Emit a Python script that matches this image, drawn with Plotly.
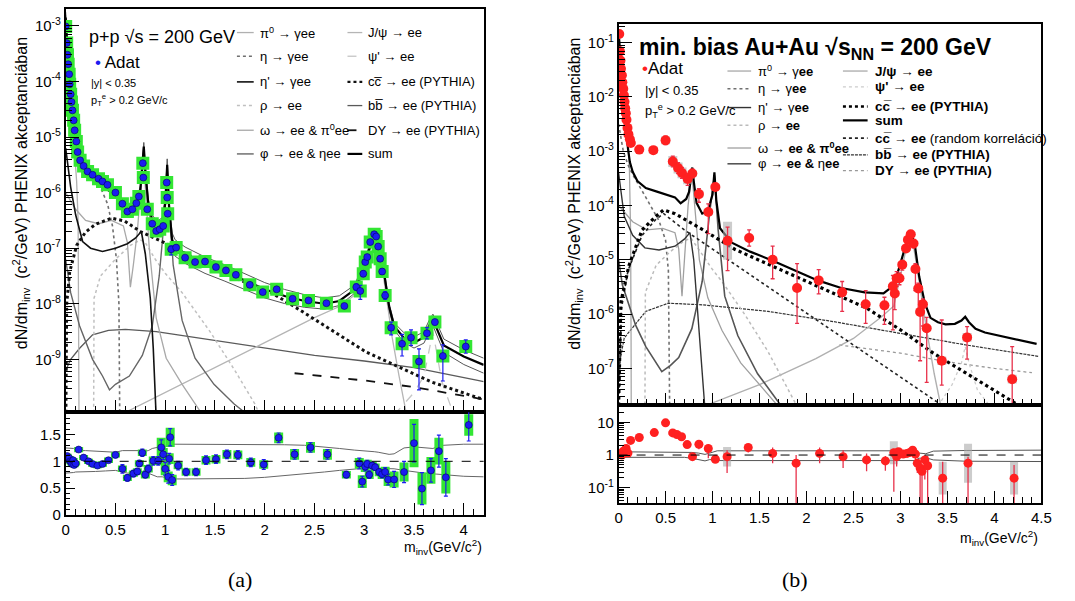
import numpy as np
import plotly.graph_objects as go

# ===================== PANEL (a): p+p =====================
a_x = [0.0, 0.01, 0.018, 0.025, 0.035, 0.04, 0.05, 0.058, 0.068, 0.08,
       0.09, 0.107, 0.12, 0.145, 0.18, 0.22, 0.27, 0.33, 0.37, 0.42,
       0.50, 0.57, 0.62, 0.67, 0.71, 0.735, 0.775, 0.78, 0.82, 0.87,
       0.91, 0.945, 0.98, 1.015, 1.02, 1.025, 1.06, 1.11, 1.20, 1.30,
       1.40, 1.51, 1.61, 1.71, 1.85, 1.98, 2.12, 2.28, 2.44, 2.62,
       2.80, 2.92, 2.96, 2.99, 3.01, 3.03, 3.06, 3.10, 3.12, 3.14,
       3.16, 3.18, 3.21, 3.27, 3.38, 3.47, 3.55, 3.63, 3.71, 3.79,
       4.02]
a_logy = [-3.01, -3.31, -3.52, -3.69, -3.87, -4.05, -4.23, -4.37, -4.52, -4.70,
          -4.88, -5.08, -5.27, -5.42, -5.52, -5.62, -5.68, -5.75, -5.80, -5.86,
          -6.00, -6.20, -6.34, -6.30, -6.19, -6.07, -5.47, -5.73, -6.30, -6.56,
          -6.69, -6.66, -6.60, -5.82, -6.09, -6.38, -7.02, -6.99, -7.17, -7.25,
          -7.24, -7.34, -7.40, -7.48, -7.66, -7.79, -7.74, -7.91, -7.94, -7.99,
          -8.04, -7.70, -7.77, -7.46, -7.25, -7.16, -6.89, -6.75, -6.79, -6.97,
          -7.19, -7.42, -7.85, -8.43, -8.72, -8.61, -9.04, -8.53, -8.33, -8.94,
          -8.77]
a_stat_up = [0.02] * 20 + [0.03] * 16 + [0.06, 0.03, 0.03, 0.03] + [0.03] * 10 + \
            [0.04, 0.06, 0.10, 0.05, 0.04, 0.04, 0.04, 0.03, 0.03, 0.04] + \
            [0.05, 0.05, 0.07, 0.10, 0.17, 0.14, 0.23, 0.10, 0.05, 0.20] + [0.12]
a_stat_dn = [0.02] * 20 + [0.03] * 16 + [0.10, 0.03, 0.03, 0.03] + [0.03] * 10 + \
            [0.04, 0.06, 0.15, 0.05, 0.04, 0.04, 0.04, 0.03, 0.03, 0.04] + \
            [0.05, 0.05, 0.07, 0.13, 0.22, 0.14, 0.51, 0.10, 0.05, 0.45] + [0.12]

ar_x = [0.005, 0.015, 0.025, 0.035, 0.045, 0.055, 0.065, 0.075, 0.085, 0.1,
        0.13, 0.18, 0.23, 0.27, 0.32, 0.37, 0.43, 0.5, 0.57, 0.62,
        0.68, 0.72, 0.74, 0.77, 0.80, 0.83, 0.88, 0.93, 0.96, 0.98,
        1.0, 1.03, 1.04, 1.05, 1.07, 1.13, 1.21, 1.31, 1.41, 1.51,
        1.62, 1.73, 1.86, 1.99, 2.14, 2.30, 2.46, 2.63, 2.82, 2.95,
        2.98, 3.01, 3.03, 3.05, 3.08, 3.11, 3.15, 3.18, 3.21, 3.24,
        3.30, 3.40, 3.50, 3.58, 3.67, 3.75, 3.82, 4.05]
ar_y = [1.08, 1.1, 1.04, 1.06, 1.0, 0.98, 0.95, 1.02, 0.93, 0.96,
        1.22, 1.07, 1.0, 0.95, 0.92, 0.95, 1.02, 1.12, 0.86, 0.69,
        0.77, 0.81, 0.96, 1.16, 0.75, 0.86, 1.01, 1.01, 1.26, 1.13,
        0.86, 0.71, 1.05, 1.45, 0.65, 0.92, 0.80, 0.80, 1.02, 1.04,
        1.13, 1.12, 0.98, 0.94, 1.44, 1.13, 1.26, 1.13, 0.75, 0.96,
        0.62, 0.90, 0.95, 0.75, 0.92, 0.89, 0.80, 0.76, 0.80, 0.66,
        0.66, 0.80, 1.34, 0.49, 0.83, 1.19, 0.70, 1.68]
ar_stat = [0.03] * 10 + \
          [0.03, 0.03, 0.03, 0.03, 0.03, 0.03, 0.04, 0.05, 0.08, 0.06] + \
          [0.06, 0.06, 0.06, 0.07, 0.06, 0.07, 0.08, 0.08, 0.14, 0.10] + \
          [0.12, 0.12, 0.10, 0.16, 0.10, 0.08, 0.07, 0.07, 0.08, 0.08] + \
          [0.08, 0.08, 0.08, 0.09, 0.09, 0.09, 0.09, 0.09, 0.06, 0.10] + \
          [0.10, 0.08, 0.07, 0.07, 0.06, 0.06, 0.06, 0.07, 0.08, 0.10] + \
          [0.15, 0.20, 0.35, 0.30, 0.22, 0.30, 0.35, 0.30]
ar_sys = [0.04] * 10 + [0.05] * 8 + [0.06, 0.06] + \
         [0.06, 0.06, 0.06, 0.06, 0.07, 0.07, 0.08, 0.08, 0.18, 0.12] + \
         [0.12, 0.10, 0.10, 0.18, 0.10, 0.07, 0.07, 0.07, 0.08, 0.08] + \
         [0.08, 0.08, 0.08, 0.08, 0.10, 0.10, 0.10, 0.10, 0.07, 0.10] + \
         [0.12, 0.10, 0.08, 0.08, 0.07, 0.07, 0.08, 0.09, 0.10, 0.12] + \
         [0.15, 0.18, 0.45, 0.30, 0.25, 0.25, 0.30, 0.20]

sum_a_x = [0.0, 0.01, 0.02, 0.04, 0.06, 0.08, 0.10, 0.12, 0.15, 0.2,
           0.3, 0.4, 0.5, 0.57, 0.62, 0.67, 0.72, 0.75, 0.77, 0.785,
           0.80, 0.83, 0.87, 0.92, 0.97, 1.0, 1.02, 1.04, 1.07, 1.1,
           1.2, 1.4, 1.6, 1.8, 2.0, 2.2, 2.4, 2.6, 2.75, 2.9,
           3.0, 3.06, 3.1, 3.14, 3.2, 3.25, 3.3, 3.4, 3.5, 3.6,
           3.65, 3.69, 3.73, 3.8, 4.0, 4.2]
sum_a_logy = [-2.85, -3.25, -3.5, -4.0, -4.4, -4.7, -5.0, -5.25, -5.4, -5.55,
              -5.7, -5.85, -6.0, -6.2, -6.33, -6.33, -6.2, -5.95, -5.55, -5.17,
              -5.6, -6.2, -6.5, -6.62, -6.55, -6.2, -5.5, -6.3, -6.85, -6.97,
              -7.1, -7.28, -7.42, -7.58, -7.74, -7.86, -7.95, -8.0, -7.95, -7.75,
              -7.35, -6.95, -6.76, -6.85, -7.45, -8.05, -8.4, -8.62, -8.7, -8.6,
              -8.4, -8.28, -8.45, -8.75, -8.95, -9.1]
band_a_hi = [1.25, 1.25, 1.25, 1.25, 1.25, 1.24, 1.22, 1.21, 1.2, 1.2,
             1.19, 1.18, 1.17, 1.2, 1.2, 1.21, 1.2, 1.2, 1.19, 1.18,
             1.19, 1.2, 1.24, 1.26, 1.26, 1.28, 1.28, 1.3, 1.32, 1.32,
             1.32, 1.32, 1.32, 1.32, 1.32, 1.31, 1.3, 1.27, 1.24, 1.21,
             1.2, 1.19, 1.18, 1.17, 1.15, 1.13, 1.14, 1.25, 1.27, 1.25,
             1.24, 1.24, 1.27, 1.3, 1.32, 1.32]
band_a_lo = [0.78, 0.78, 0.78, 0.78, 0.78, 0.79, 0.8, 0.8, 0.8, 0.8,
             0.81, 0.82, 0.83, 0.8, 0.78, 0.78, 0.78, 0.8, 0.81, 0.82,
             0.8, 0.78, 0.74, 0.71, 0.71, 0.69, 0.69, 0.68, 0.67, 0.67,
             0.67, 0.67, 0.67, 0.68, 0.7, 0.73, 0.77, 0.8, 0.83, 0.86,
             0.87, 0.87, 0.87, 0.87, 0.86, 0.86, 0.86, 0.83, 0.8, 0.78,
             0.77, 0.77, 0.76, 0.75, 0.72, 0.71]

pi0_a_x = [0.0, 0.005, 0.03, 0.06, 0.09, 0.11, 0.125, 0.132, 0.135]
pi0_a_logy = [-2.8, -3.0, -3.8, -4.5, -5.2, -5.8, -6.5, -8.0, -10.5]
eta_a_x = [0.0, 0.05, 0.1, 0.2, 0.3, 0.36, 0.42, 0.47, 0.51, 0.535, 0.545]
eta_a_logy = [-4.3, -5.0, -5.4, -5.7, -5.85, -5.95, -6.2, -6.6, -7.2, -8.0, -10.5]
etap_a_x = [0.0, 0.05, 0.1, 0.17, 0.25, 0.37, 0.5, 0.62, 0.7, 0.76, 0.8, 0.85, 0.88, 0.9, 0.92]
etap_a_logy = [-5.2, -5.9, -6.4, -6.88, -7.0, -7.06, -7.0, -6.92, -6.82, -6.7, -7.1, -7.9, -8.8, -9.6, -10.5]
rho_a_x = [0.28, 0.285, 0.35, 0.5, 0.65, 0.75, 0.8, 0.9, 1.0, 1.17, 1.45, 1.7, 1.9, 2.0]
rho_a_logy = [-10.5, -7.9, -7.5, -7.2, -6.95, -6.85, -6.9, -7.2, -7.45, -7.8, -8.5, -9.2, -9.8, -10.2]
omega_a_x = [0.0, 0.1, 0.2, 0.33, 0.46, 0.58, 0.62, 0.65, 0.68, 0.72, 0.76, 0.78, 0.8, 0.84,
             0.91, 1.01, 1.17, 1.3, 1.45]
omega_a_logy = [-6.0, -6.3, -6.5, -6.56, -6.5, -6.6, -6.9, -7.7, -7.3, -6.7, -5.8, -5.3, -5.9, -7.0,
                -8.26, -8.98, -9.45, -9.8, -10.2]
phi_a_x = [0.0, 0.05, 0.14, 0.27, 0.37, 0.44, 0.5, 0.64, 0.77, 0.87, 0.94, 0.99, 1.02, 1.05,
           1.08, 1.17, 1.3, 1.49, 1.69, 1.9]
phi_a_logy = [-7.2, -7.8, -8.4, -9.0, -9.3, -9.55, -9.45, -9.3, -8.93, -8.4, -7.5, -6.5, -5.6, -6.5,
              -7.3, -8.3, -8.98, -9.45, -9.8, -10.1]
jpsi_a_x = [0.55, 1.0, 1.5, 2.0, 2.5, 2.75, 2.9, 3.0, 3.05, 3.1, 3.15, 3.2, 3.28, 3.35, 3.42]
jpsi_a_logy = [-10.0, -9.6, -9.15, -8.7, -8.25, -8.05, -7.85, -7.3, -7.0, -6.78, -6.95, -7.6, -8.6, -9.3, -9.95]
psi2_a_x = [3.3, 3.5, 3.6, 3.66, 3.69, 3.72, 3.78, 3.9]
psi2_a_logy = [-10.0, -9.6, -9.3, -8.8, -8.5, -8.8, -9.4, -10.0]
cc_a_x = [0.0, 0.01, 0.04, 0.11, 0.2, 0.3, 0.46, 0.59, 0.75, 0.98, 1.24, 1.56, 1.88, 2.03,
          2.36, 2.69, 3.02, 3.35, 3.68, 4.14, 4.2]
cc_a_logy = [-10.5, -8.0, -7.43, -6.95, -6.71, -6.57, -6.46, -6.51, -6.7, -6.89, -7.13, -7.43, -7.67, -7.76,
             -8.12, -8.5, -8.87, -9.14, -9.41, -9.69, -9.72]
bb_a_x = [0.0, 0.05, 0.14, 0.27, 0.43, 0.6, 0.91, 1.24, 1.56, 2.0, 2.5, 3.0, 3.5, 4.14, 4.2]
bb_a_logy = [-9.2, -9.0, -8.8, -8.56, -8.48, -8.46, -8.5, -8.59, -8.68, -8.8, -8.93, -9.03, -9.15, -9.38, -9.4]
dy_a_x = [2.3, 3.0, 3.5, 4.2]
dy_a_logy = [-9.25, -9.38, -9.5, -9.72]

# ===================== PANEL (b): Au+Au =====================
b_x = [0.007, 0.014, 0.02, 0.025, 0.035, 0.04, 0.05, 0.056, 0.063, 0.07,
       0.077, 0.084, 0.095, 0.105, 0.12, 0.13, 0.22, 0.37, 0.5, 0.577,
       0.633, 0.675, 0.735, 0.785, 0.855, 0.955, 1.03, 1.16, 1.39, 1.64,
       1.9, 2.13, 2.38, 2.63, 2.83, 2.92, 2.94, 2.96, 2.99, 3.02,
       3.06, 3.08, 3.11, 3.14, 3.16, 3.19, 3.21, 3.24, 3.28, 3.44,
       3.71, 4.19]
b_logy = [-0.84, -1.16, -1.33, -1.48, -1.6, -1.73, -1.85, -1.97, -2.09, -2.21,
          -2.3, -2.42, -2.57, -2.69, -2.78, -2.85, -2.97, -2.98, -2.8, -3.19,
          -3.31, -3.40, -3.51, -3.41, -3.79, -4.12, -3.66, -4.65, -4.6, -5.0,
          -5.52, -5.38, -5.6, -5.82, -5.84, -5.49, -5.62, -5.34, -5.34, -5.09,
          -4.79, -4.63, -4.53, -4.70, -5.17, -5.53, -5.96, -5.82, -6.26, -6.86,
          -6.43, -7.2]
b_stat_up = [0.02] * 10 + [0.02] * 6 + [0.04, 0.04, 0.08, 0.1] + \
            [0.1, 0.1, 0.1, 0.08, 0.1, 0.15, 0.05, 0.25, 0.15, 0.25] + \
            [0.45, 0.2, 0.2, 0.25, 0.15, 0.2, 0.15, 0.12, 0.1, 0.08] + \
            [0.06, 0.05, 0.05, 0.06, 0.1, 0.1, 0.2, 0.1, 0.2, 0.75] + [0.2, 0.6]
b_stat_dn = [0.02] * 10 + [0.02] * 6 + [0.04, 0.04, 0.08, 0.1] + \
            [0.1, 0.1, 0.12, 0.08, 0.15, 0.4, 0.05, 0.55, 0.15, 0.35] + \
            [0.65, 0.25, 0.35, 0.35, 0.35, 0.8, 0.3, 0.15, 0.12, 0.1] + \
            [0.06, 0.05, 0.05, 0.08, 0.4, 0.4, 0.9, 0.4, 1.0, 0.45] + [0.4, 1.2]
b_sys = [0.03] * 10 + [0.03] * 6 + [0.04, 0.06, 0.07, 0.1] + \
        [0.1, 0.1, 0.1, 0.06, 0.06, 0.06, 0.05, 0.35, 0.04, 0.04] + \
        [0.04] * 10 + [0.04] * 9 + [0.08] + [0.08, 0.08]

br_x = [0.0, 0.02, 0.035, 0.05, 0.065, 0.08, 0.1, 0.128, 0.22, 0.38,
        0.5, 0.576, 0.62, 0.67, 0.73, 0.786, 0.855, 0.955, 1.03, 1.155,
        1.38, 1.64, 1.89, 2.14, 2.39, 2.64, 2.84, 2.93, 2.96, 2.98,
        3.03, 3.07, 3.10, 3.13, 3.16, 3.18, 3.21, 3.23, 3.26, 3.29,
        3.45, 3.72, 4.21]
br_logr = [0.02, 0.05, 0.0, 0.12, 0.08, 0.2, 0.06, 0.45, 0.54, 0.69,
           0.99, 0.68, 0.63, 0.56, 0.32, -0.05, 0.33, 0.2, -0.13, -0.05,
           0.23, 0.05, -0.25, 0.05, -0.05, -0.15, -0.18, 0.07, -0.05, 0.1,
           0.03, 0.05, 0.08, 0.15, 0.03, -0.25, -0.4, -0.5, -0.15, -0.33,
           -0.71, -0.25, -0.71]
br_up = [0.03] * 7 + [0.04, 0.04, 0.05] + \
        [0.06, 0.08, 0.08, 0.08, 0.1, 0.1, 0.12, 0.12, 0.05, 0.2] + \
        [0.12, 0.18, 0.25, 0.18, 0.2, 0.2, 0.15, 0.12, 0.12, 0.1] + \
        [0.06, 0.06, 0.06, 0.06, 0.1, 0.1, 0.15, 0.1, 0.15, 0.3] + [0.5, 0.2, 0.4]
br_dn = [0.03] * 7 + [0.04, 0.04, 0.05] + \
        [0.06, 0.08, 0.08, 0.1, 0.1, 0.12, 0.15, 0.3, 0.05, 0.5] + \
        [0.15, 0.3, 1.5, 0.3, 0.35, 0.35, 0.3, 1.2, 0.3, 0.1] + \
        [0.08, 0.06, 0.06, 0.06, 0.3, 0.3, 1.5, 1.5, 0.6, 1.5] + [1.5, 1.5, 1.5]
br_sys = [0.03] * 10 + [0.05, 0.06, 0.06, 0.06, 0.06, 0.05, 0.05, 0.05, 0.05, 0.3] + \
         [0.04] * 7 + [0.35, 0.04, 0.04] + [0.04] * 10 + [0.5, 0.6, 0.5]

brb_x = [0.0, 0.7, 0.78, 0.85, 0.92, 0.97, 1.05, 3.15, 3.2, 3.27, 3.35, 3.7, 4.5]
brb_hi_logr = [0.1, 0.1, 0.08, 0.06, 0.02, 0.06, 0.13, 0.13, 0.06, 0.04, 0.12, 0.14, 0.15]
brb_lo_logr = [-0.07, -0.07, -0.1, -0.14, -0.18, -0.14, -0.17, -0.17, -0.1, -0.08, -0.15, -0.19, -0.2]

sum_b_x = [0.0, 0.01, 0.02, 0.04, 0.06, 0.08, 0.1, 0.12, 0.15, 0.2,
           0.29, 0.4, 0.5, 0.6, 0.66, 0.72, 0.75, 0.77, 0.785, 0.80,
           0.83, 0.89, 0.95, 1.0, 1.02, 1.04, 1.08, 1.2, 1.4, 1.66,
           1.9, 2.12, 2.37, 2.62, 2.82, 2.93, 3.0, 3.06, 3.11, 3.15,
           3.2, 3.26, 3.32, 3.4, 3.48, 3.58, 3.65, 3.69, 3.73, 3.8,
           3.9, 4.17, 4.45]
sum_b_logy = [-0.8, -1.1, -1.35, -1.8, -2.2, -2.6, -2.95, -3.2, -3.38, -3.55,
              -3.68, -3.74, -3.79, -3.85, -3.96, -3.88, -3.75, -3.5, -3.3, -3.55,
              -3.95, -4.15, -4.1, -3.8, -3.39, -3.9, -4.42, -4.68, -4.85, -5.03,
              -5.22, -5.38, -5.52, -5.6, -5.62, -5.47, -5.07, -4.71, -4.51, -4.68,
              -5.31, -5.8, -6.07, -6.15, -6.19, -6.18, -6.12, -6.05, -6.15, -6.27,
              -6.34, -6.45, -6.55]
pi0_b_x = [0.0, 0.005, 0.05, 0.09, 0.115, 0.128, 0.133, 0.135]
pi0_b_logy = [-0.75, -0.85, -1.9, -2.6, -3.3, -4.5, -6.5, -8.0]
eta_b_x = [0.0, 0.05, 0.1, 0.15, 0.29, 0.43, 0.5, 0.53, 0.545]
eta_b_logy = [-2.5, -3.0, -3.25, -3.43, -3.85, -4.28, -4.64, -5.2, -8.0]
etap_b_x = [0.0, 0.06, 0.15, 0.28, 0.43, 0.6, 0.7, 0.76, 0.8, 0.85, 0.9, 0.93]
etap_b_logy = [-3.4, -4.2, -4.55, -4.78, -4.82, -4.75, -4.62, -4.5, -5.0, -6.2, -7.3, -8.0]
rho_b_x = [0.28, 0.285, 0.4, 0.55, 0.7, 0.77, 0.85, 1.0, 1.1, 1.34, 1.59, 1.9]
rho_b_logy = [-8.0, -5.6, -5.1, -4.85, -4.65, -4.6, -4.8, -5.18, -5.4, -6.0, -6.69, -7.7]
omega_b_x = [0.0, 0.15, 0.3, 0.47, 0.6, 0.64, 0.675, 0.71, 0.74, 0.78, 0.81, 0.86, 0.95, 1.1, 1.3, 1.5, 1.7]
omega_b_logy = [-4.0, -4.3, -4.45, -4.42, -4.5, -4.8, -5.67, -4.8, -4.0, -3.4, -4.0, -5.0, -5.7, -6.3, -6.9, -7.3, -7.7]
phi_b_x = [0.0, 0.04, 0.18, 0.29, 0.46, 0.55, 0.64, 0.78, 0.89, 0.97, 1.02, 1.06, 1.13, 1.27, 1.48, 1.73]
phi_b_logy = [-5.0, -5.46, -6.2, -6.6, -7.06, -6.95, -6.8, -6.27, -5.4, -4.12, -3.45, -4.45, -5.67, -6.4, -7.1, -7.69]
jpsi_b_x = [0.92, 1.5, 2.1, 2.5, 2.8, 2.93, 3.0, 3.06, 3.1, 3.14, 3.2, 3.28, 3.36, 3.43]
jpsi_b_logy = [-7.69, -7.3, -6.82, -6.45, -6.05, -5.85, -5.3, -4.8, -4.58, -4.75, -5.4, -6.3, -7.1, -7.69]
psi2_b_x = [3.4, 3.55, 3.65, 3.69, 3.73, 3.82, 3.95]
psi2_b_logy = [-7.69, -7.3, -6.9, -6.6, -6.9, -7.4, -7.69]
cc_b_x = [0.0, 0.025, 0.11, 0.25, 0.39, 0.48, 0.6, 0.89, 1.24, 1.59, 2.12, 2.64, 3.0, 3.35, 3.7, 4.23, 4.3]
cc_b_logy = [-7.69, -5.77, -5.11, -4.45, -4.21, -4.08, -4.15, -4.44, -4.81, -5.08, -5.5, -5.89, -6.29, -6.72, -7.09, -7.65, -7.7]
ccr_b_x = [0.0, 0.03, 0.1, 0.25, 0.4, 0.48, 0.7, 0.99, 1.5, 2.0, 2.5, 3.0, 3.45]
ccr_b_logy = [-7.69, -5.9, -5.2, -4.55, -4.25, -4.15, -4.45, -4.79, -5.39, -5.98, -6.57, -7.16, -7.69]
bb_b_x = [0.0, 0.06, 0.29, 0.53, 0.89, 1.59, 2.29, 3.0, 3.7, 4.47]
bb_b_logy = [-7.0, -6.44, -5.95, -5.8, -5.83, -5.95, -6.14, -6.35, -6.57, -6.78]
dy_b_x = [2.35, 3.0, 3.5, 4.0, 4.4]
dy_b_logy = [-6.57, -6.72, -6.88, -7.0, -7.08]

# ===================== FIGURE =====================
FONT = "Liberation Sans"
W, H = 1075, 601
fig = go.Figure()
shapes = []
ann = []


def px(v):
    return v / W


def py(v):
    return 1 - v / H


def P(v):
    return 10 ** np.asarray(v, dtype=float)


def A(x, y, text, size, xanchor="left", family=FONT, angle=0, color="black"):
    ann.append(dict(x=px(x), y=py(y), xref="paper", yref="paper", text=text, showarrow=False,
                    xanchor=xanchor, yanchor="middle", textangle=angle,
                    font=dict(family=family, size=size, color=color)))


def curve(xa, ya, x, ly, style):
    fig.add_trace(go.Scatter(x=x, y=P(ly), mode="lines", line=style, xaxis=xa, yaxis=ya,
                             showlegend=False, hoverinfo="skip"))


def legend_entry(x0, x1, xt, y, text, style, size):
    st = dict(style)
    st["width"] = min(st["width"], 2.4)
    shapes.append(dict(type="line", xref="paper", yref="paper", x0=px(x0), x1=px(x1),
                       y0=py(y), y1=py(y), line=st))
    A(xt, y, text, size)


ccbar = "cc\u0305"
bbbar = "bb\u0305"

# styles (a)
S_pi0 = dict(color="#b0b0b0", width=1.3, dash="solid")
S_eta = dict(color="#707070", width=1.6, dash="dot")
S_etap = dict(color="#111111", width=1.6, dash="solid")
S_rho = dict(color="#c0c0c0", width=1.5, dash="dot")
S_omega = dict(color="#a8a8a8", width=1.3, dash="solid")
S_phi = dict(color="#666666", width=1.4, dash="solid")
S_jpsi = dict(color="#b5b5b5", width=1.3, dash="solid")
S_psi2 = dict(color="#c5c5c5", width=1.3, dash="dash")
S_cc = dict(color="#111111", width=3.0, dash="dot")
S_bb = dict(color="#5a5a5a", width=1.3, dash="solid")
S_dy = dict(color="#111111", width=1.8, dash="dash")
S_sum = dict(color="#000000", width=2.2, dash="solid")
S_band = dict(color="#555555", width=1.0, dash="solid")

# ---- panel (a) cocktail ----
curve("x", "y", bb_a_x, bb_a_logy, S_bb)
curve("x", "y", dy_a_x, dy_a_logy, S_dy)
curve("x", "y", jpsi_a_x, jpsi_a_logy, S_jpsi)
curve("x", "y", psi2_a_x, psi2_a_logy, S_psi2)
curve("x", "y", pi0_a_x, pi0_a_logy, S_pi0)
curve("x", "y", eta_a_x, eta_a_logy, S_eta)
curve("x", "y", rho_a_x, rho_a_logy, S_rho)
curve("x", "y", omega_a_x, omega_a_logy, S_omega)
curve("x", "y", phi_a_x, phi_a_logy, S_phi)
curve("x", "y", etap_a_x, etap_a_logy, S_etap)
curve("x", "y", cc_a_x, cc_a_logy, S_cc)
fig.add_trace(go.Scatter(x=sum_a_x, y=P(sum_a_logy) * np.array(band_a_hi), mode="lines", line=S_band,
                         showlegend=False, xaxis="x", yaxis="y", hoverinfo="skip"))
fig.add_trace(go.Scatter(x=sum_a_x, y=P(sum_a_logy) * np.array(band_a_lo), mode="lines", line=S_band,
                         showlegend=False, xaxis="x", yaxis="y", hoverinfo="skip"))
curve("x", "y", sum_a_x, sum_a_logy, S_sum)

# ---- panel (a) data ----
ya = P(a_logy)
fig.add_trace(go.Scatter(x=a_x, y=ya, mode="markers", showlegend=False, xaxis="x", yaxis="y",
                         marker=dict(symbol="square", size=13, color="#33e633"), hoverinfo="skip"))
fig.add_trace(go.Scatter(x=a_x, y=ya, mode="markers", showlegend=False, xaxis="x", yaxis="y",
                         marker=dict(symbol="circle", size=7, color="#1c1cf0", line=dict(color="#000060", width=0.6)),
                         error_y=dict(type="data", symmetric=False,
                                      array=ya * (P(a_stat_up) - 1), arrayminus=ya * (1 - 1 / P(a_stat_dn)),
                                      color="#1c1cf0", thickness=1.2, width=2)))

# ---- panel (a) ratio ----
fig.add_trace(go.Scatter(x=sum_a_x, y=band_a_hi, mode="lines", line=dict(color="#666666", width=1),
                         showlegend=False, xaxis="x2", yaxis="y2", hoverinfo="skip"))
fig.add_trace(go.Scatter(x=sum_a_x, y=band_a_lo, mode="lines", line=dict(color="#666666", width=1),
                         showlegend=False, xaxis="x2", yaxis="y2", hoverinfo="skip"))
fig.add_trace(go.Scatter(x=ar_x, y=ar_y, mode="markers", showlegend=False, xaxis="x2", yaxis="y2",
                         marker=dict(color="rgba(0,0,0,0)", size=2),
                         error_y=dict(type="data", array=ar_sys, color="#33e633", thickness=9, width=0),
                         hoverinfo="skip"))
fig.add_trace(go.Scatter(x=ar_x, y=ar_y, mode="markers", showlegend=False, xaxis="x2", yaxis="y2",
                         marker=dict(symbol="circle", size=7, color="#1c1cf0", line=dict(color="#000060", width=0.6)),
                         error_y=dict(type="data", array=ar_stat, color="#1c1cf0", thickness=1.2, width=2)))

# styles (b)
T_pi0 = dict(color="#a8a8a8", width=1.3, dash="solid")
T_eta = dict(color="#707070", width=1.6, dash="dot")
T_etap = dict(color="#333333", width=1.4, dash="solid")
T_rho = dict(color="#bbbbbb", width=1.5, dash="dot")
T_omega = dict(color="#a0a0a0", width=1.3, dash="solid")
T_phi = dict(color="#555555", width=1.6, dash="solid")
T_jpsi = dict(color="#b0b0b0", width=1.4, dash="solid")
T_psi2 = dict(color="#cccccc", width=1.3, dash="dot")
T_cc = dict(color="#000000", width=3.2, dash="dot")
T_sum = dict(color="#000000", width=2.2, dash="solid")
T_ccr = dict(color="#222222", width=1.6, dash="dot")
T_bb = dict(color="#333333", width=1.2, dash="3px,1px")
T_dy = dict(color="#999999", width=1.3, dash="dot")

# ---- panel (b) cocktail ----
curve("x3", "y3", dy_b_x, dy_b_logy, T_dy)
curve("x3", "y3", bb_b_x, bb_b_logy, T_bb)
curve("x3", "y3", jpsi_b_x, jpsi_b_logy, T_jpsi)
curve("x3", "y3", psi2_b_x, psi2_b_logy, T_psi2)
curve("x3", "y3", pi0_b_x, pi0_b_logy, T_pi0)
curve("x3", "y3", eta_b_x, eta_b_logy, T_eta)
curve("x3", "y3", rho_b_x, rho_b_logy, T_rho)
curve("x3", "y3", omega_b_x, omega_b_logy, T_omega)
curve("x3", "y3", phi_b_x, phi_b_logy, T_phi)
curve("x3", "y3", etap_b_x, etap_b_logy, T_etap)
curve("x3", "y3", ccr_b_x, ccr_b_logy, T_ccr)
curve("x3", "y3", cc_b_x, cc_b_logy, T_cc)
curve("x3", "y3", sum_b_x, sum_b_logy, T_sum)

# ---- panel (b) data ----
yb = P(b_logy)
fig.add_trace(go.Scatter(x=b_x, y=yb, mode="markers", showlegend=False, xaxis="x3", yaxis="y3",
                         marker=dict(color="rgba(0,0,0,0)", size=2),
                         error_y=dict(type="data", symmetric=False, array=yb * (P(b_sys) - 1),
                                      arrayminus=yb * (1 - 1 / P(b_sys)), color="rgba(170,170,170,0.6)",
                                      thickness=9, width=0), hoverinfo="skip"))
fig.add_trace(go.Scatter(x=b_x, y=yb, mode="markers", showlegend=False, xaxis="x3", yaxis="y3",
                         marker=dict(symbol="circle", size=10, color="#ff2020"),
                         error_y=dict(type="data", symmetric=False, array=yb * (P(b_stat_up) - 1),
                                      arrayminus=yb * (1 - 1 / P(b_stat_dn)), color="#e8304a",
                                      thickness=1.3, width=2)))

# ---- panel (b) ratio ----
fig.add_trace(go.Scatter(x=brb_x, y=P(brb_hi_logr), mode="lines", line=dict(color="#555555", width=1),
                         showlegend=False, xaxis="x4", yaxis="y4", hoverinfo="skip"))
fig.add_trace(go.Scatter(x=brb_x, y=P(brb_lo_logr), mode="lines", line=dict(color="#555555", width=1),
                         showlegend=False, xaxis="x4", yaxis="y4", hoverinfo="skip"))
rb = P(br_logr)
fig.add_trace(go.Scatter(x=br_x, y=rb, mode="markers", showlegend=False, xaxis="x4", yaxis="y4",
                         marker=dict(color="rgba(0,0,0,0)", size=2),
                         error_y=dict(type="data", symmetric=False, array=rb * (P(br_sys) - 1),
                                      arrayminus=rb * (1 - 1 / P(br_sys)), color="rgba(170,170,170,0.6)",
                                      thickness=8, width=0), hoverinfo="skip"))
fig.add_trace(go.Scatter(x=br_x, y=rb, mode="markers", showlegend=False, xaxis="x4", yaxis="y4",
                         marker=dict(symbol="circle", size=9, color="#ff2020"),
                         error_y=dict(type="data", symmetric=False, array=rb * (P(br_up) - 1),
                                      arrayminus=rb * (1 - 1 / P(br_dn)), color="#e8304a",
                                      thickness=1.3, width=0)))

# ===================== LAYOUT =====================


def logticks(lo, hi):
    major = [10.0 ** k for k in range(lo, hi + 1)]
    text = ["10<sup>%d</sup>" % k for k in range(lo, hi + 1)]
    minor = [m * 10.0 ** k for k in range(lo - 1, hi + 1) for m in range(2, 10)]
    return major, text, minor


axis_common = dict(showline=True, linecolor="black", linewidth=1.5, mirror=True, ticks="inside",
                   tickcolor="black", showgrid=False, zeroline=False,
                   tickfont=dict(family=FONT, size=15, color="black"))
MINX = dict(dtick=0.1, ticklen=6, ticks="inside", tickcolor="black")

maj_a, txt_a, min_a = logticks(-9, -3)
maj_b, txt_b, min_b = logticks(-7, -1)
min_rb = [m * 10.0 ** k for k in range(-2, 2) for m in range(2, 10)]

xa_dom = [px(62.5), px(486)]
xb_dom = [px(622.7), px(1051)]

fig.update_layout(
    width=W, height=H, autosize=False,
    margin=dict(l=0, r=0, t=0, b=0),
    paper_bgcolor="white", plot_bgcolor="white",
    font=dict(family=FONT, color="black"),
    showlegend=False,
    xaxis=dict(axis_common, domain=xa_dom, range=[0, 4.2], anchor="y", dtick=0.5, ticklen=12,
               showticklabels=False, minor=MINX),
    yaxis=dict(axis_common, domain=[py(417.7), py(9.3)], type="log", range=[-9.95, -2.70], anchor="x",
               tickvals=maj_a, ticktext=txt_a, ticklen=14,
               minor=dict(tickvals=min_a, ticklen=7, ticks="inside", tickcolor="black")),
    xaxis2=dict(axis_common, domain=xa_dom, range=[0, 4.2], anchor="y2", dtick=0.5, ticklen=12, minor=MINX),
    yaxis2=dict(axis_common, domain=[py(521.7), py(417.7)], range=[0, 1.92], anchor="x2",
                tickvals=[0, 0.5, 1, 1.5], ticktext=["0", "0.5", "1", "1.5"], ticklen=10,
                minor=dict(dtick=0.1, ticklen=5, ticks="inside", tickcolor="black")),
    xaxis3=dict(axis_common, domain=xb_dom, range=[0, 4.5], anchor="y3", dtick=0.5, ticklen=12,
                showticklabels=False, minor=MINX),
    yaxis3=dict(axis_common, domain=[py(410.7), py(24)], type="log", range=[-7.68, -0.65], anchor="x3",
                tickvals=maj_b, ticktext=txt_b, ticklen=14,
                minor=dict(tickvals=min_b, ticklen=7, ticks="inside", tickcolor="black")),
    xaxis4=dict(axis_common, domain=xb_dom, range=[0, 4.5], anchor="y4", dtick=0.5, ticklen=12, minor=MINX),
    yaxis4=dict(axis_common, domain=[py(510), py(410.7)], type="log", range=[-1.48, 1.53], anchor="x4",
                tickvals=[0.1, 1, 10], ticktext=["10<sup>-1</sup>", "1", "10"], ticklen=12,
                minor=dict(tickvals=min_rb, ticklen=6, ticks="inside", tickcolor="black")),
)

# reference lines at ratio = 1
shapes.append(dict(type="line", xref="x2 domain", yref="y2", x0=0, x1=1, y0=1, y1=1,
                   line=dict(color="black", width=1, dash="dash")))
shapes.append(dict(type="line", xref="x4 domain", yref="y4", x0=0, x1=1, y0=1, y1=1,
                   line=dict(color="black", width=1, dash="dash")))

# ---- legend (a) ----
LA = 13
rows_a = [33, 57, 83, 107, 132, 156]
col1_a = [("\u03c0<sup>0</sup> \u2192 \u03b3ee", S_pi0), ("\u03b7 \u2192 \u03b3ee", S_eta),
          ("\u03b7' \u2192 \u03b3ee", S_etap), ("\u03c1 \u2192 ee", S_rho),
          ("\u03c9 \u2192 ee & \u03c0<sup>0</sup>ee", S_omega), ("\u03c6 \u2192 ee & \u03b7ee", S_phi)]
col2_a = [("J/\u03c8 \u2192 ee", S_jpsi), ("\u03c8' \u2192 ee", S_psi2),
          (ccbar + " \u2192 ee (PYTHIA)", S_cc), (bbbar + " \u2192 ee (PYTHIA)", S_bb),
          ("DY \u2192 ee (PYTHIA)", S_dy), ("sum", S_sum)]
for (t, s), yy in zip(col1_a, rows_a):
    legend_entry(236, 253, 257, yy, t, s, LA)
for (t, s), yy in zip(col2_a, rows_a):
    legend_entry(348, 363, 367, yy, t, s, LA)

# ---- legend (b) ----
rows_b1 = [72, 90, 109, 127, 150, 166]
rows_b2 = [72, 88, 108, 122, 140, 157, 173]
col1_b = [("\u03c0<sup>0</sup> \u2192 \u03b3<b>ee</b>", T_pi0), ("\u03b7 \u2192 \u03b3<b>ee</b>", T_eta),
          ("\u03b7' \u2192 \u03b3<b>ee</b>", T_etap), ("\u03c1 \u2192 <b>ee</b>", T_rho),
          ("\u03c9 \u2192 <b>ee & \u03c0<sup>0</sup>ee</b>", T_omega),
          ("\u03c6 \u2192 <b>ee & </b>\u03b7<b>ee</b>", T_phi)]
col2_b = [("<b>J/\u03c8 \u2192 ee</b>", T_jpsi), ("<b>\u03c8' \u2192 ee</b>", T_psi2),
          ("<b>" + ccbar + " \u2192 ee (PYTHIA)</b>", T_cc), ("<b>sum</b>", T_sum),
          ("<b>" + ccbar + " \u2192 ee</b> <span style='font-size:13.5px'>(random korreláció)</span>", T_ccr),
          ("<b>" + bbbar + " \u2192 ee (PYTHIA)</b>", T_bb), ("<b>DY \u2192 ee (PYTHIA)</b>", T_dy)]
for (t, s), yy in zip(col1_b, rows_b1):
    legend_entry(733, 757, 762, yy, t, s, 13)
for (t, s), yy in zip(col2_b, rows_b2):
    legend_entry(850, 875, 880, yy, t, s, 13.5)

# ---- texts ----
A(84, 37, "p+p \u221as = 200 GeV", 18)
A(90, 63, "<span style='color:#1c1cf0'>\u2022</span> Adat", 17)
A(86, 84, "|y| < 0.35", 11)
A(86, 101, "p<sub>T</sub><sup>e</sup> > 0.2 GeV/c", 11)
A(641, 49, "<b>min. bias Au+Au \u221as<sub>NN</sub> = 200 GeV</b>", 23)
A(644, 69, "<span style='color:#ff2020'>\u2022</span>Adat", 17)
A(647, 92, "|y| < 0.35", 13)
A(647, 112, "p<sub>T</sub><sup>e</sup> > 0.2 GeV/c", 13)
A(18, 196, "dN/dm<sub>inv</sub>  (c<sup>2</sup>/GeV) PHENIX akceptanciában", 16, xanchor="center", angle=-90)
A(578, 196, "dN/dm<sub>inv</sub>  (c<sup>2</sup>/GeV) PHENIX akceptanciában", 16, xanchor="center", angle=-90)
A(486, 554, "m<sub>inv</sub>(GeV/c<sup>2</sup>)", 14, xanchor="right")
A(1050, 545, "m<sub>inv</sub>(GeV/c<sup>2</sup>)", 14, xanchor="right")
A(239, 587, "(a)", 22, xanchor="center", family="Liberation Serif")
A(801, 587, "(b)", 22, xanchor="center", family="Liberation Serif")

fig.update_layout(shapes=shapes, annotations=ann)
fig.write_html("out.html")
